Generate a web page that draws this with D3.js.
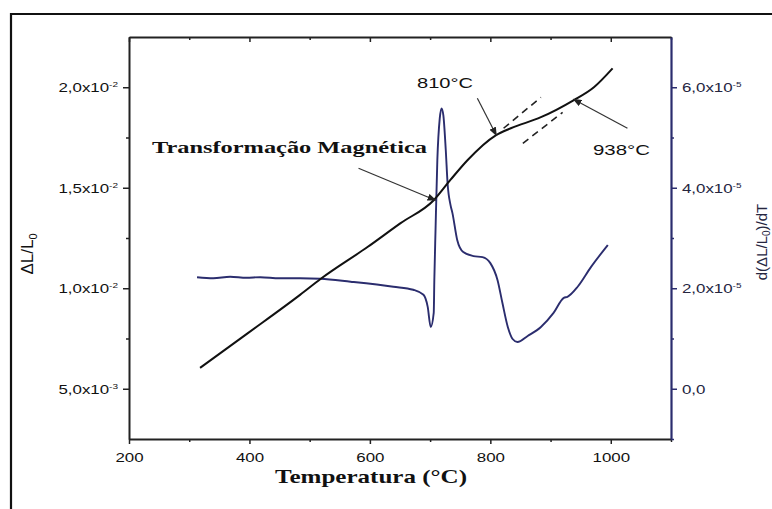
<!DOCTYPE html>
<html>
<head>
<meta charset="utf-8">
<script src="https://cdn.jsdelivr.net/npm/d3@7"></script>
<style>
  html, body { margin: 0; padding: 0; background: #fff; }
  svg { display: block; }
</style>
</head>
<body>
<svg id="chart" width="772" height="509"></svg>
<script>
// Thermal expansion ΔL/L0 against temperature (left axis)
const dilTemp  = [318, 398, 484, 518, 596, 651, 706, 734, 762, 809, 834, 884, 938, 972, 1003];
const dilValue = [0.00604, 0.00778, 0.00967, 0.01046, 0.01205, 0.01324, 0.01438, 0.01540,
                  0.01637, 0.01761, 0.01796, 0.01851, 0.01935, 0.02000, 0.02094];

// Derivative d(ΔL/L0)/dT against temperature (right axis)
const derivTemp  = [313, 340, 368, 395, 418, 450, 484, 518, 568, 639, 672, 689, 696, 701,
                    706, 707, 709, 712, 716, 719, 722, 726, 729, 734, 737, 745, 755, 772,
                    787, 800, 812, 820, 829, 837, 845, 862, 884, 905, 922, 928, 945, 967, 995];
const derivValue = [2.22e-5, 2.20e-5, 2.23e-5, 2.21e-5, 2.22e-5, 2.20e-5, 2.20e-5, 2.19e-5,
                    2.13e-5, 2.03e-5, 1.97e-5, 1.87e-5, 1.63e-5, 1.23e-5, 1.51e-5, 2.16e-5,
                    3.16e-5, 4.55e-5, 5.38e-5, 5.58e-5, 5.44e-5, 4.75e-5, 4.09e-5, 3.65e-5,
                    3.50e-5, 2.96e-5, 2.72e-5, 2.64e-5, 2.62e-5, 2.50e-5, 2.16e-5, 1.71e-5,
                    1.23e-5, 0.99e-5, 0.93e-5, 1.05e-5, 1.23e-5, 1.51e-5, 1.81e-5, 1.83e-5,
                    2.03e-5, 2.42e-5, 2.86e-5];

// Tangent construction lines around the 810 °C and 938 °C slope changes
const tangentUpperTemp  = [822, 884];
const tangentUpperValue = [0.01796, 0.01950];
const tangentLowerTemp  = [854, 920];
const tangentLowerValue = [0.01721, 0.01875];

// Annotated points on the expansion curve
const noteLabels = ["Transformação Magnética", "810°C", "938°C"];
const noteTemps  = [709, 810, 938];
const noteValues = [0.01438, 0.01761, 0.01940];

// Axis ticks
const xTicks = [200, 400, 600, 800, 1000];
const xMinorTicks = [300, 500, 700, 900, 1100];
const leftTicks = [0.005, 0.010, 0.015, 0.020];
const leftMinorTicks = [0.0075, 0.0125, 0.0175];
const leftTickMantissa = ["5,0x10", "1,0x10", "1,5x10", "2,0x10"];
const leftTickExponent = ["-3", "-2", "-2", "-2"];
const rightTicks = [0, 2e-5, 4e-5, 6e-5];
const rightMinorTicks = [-1e-5, 1e-5, 3e-5, 5e-5];
const rightTickMantissa = ["0,0", "2,0x10", "4,0x10", "6,0x10"];
const rightTickExponent = ["", "-5", "-5", "-5"];

const svg = d3.select("#chart");
const NAVY = "#2b2d6e";
const INK = "#111";
const SX = 1.25; // horizontal stretch applied to tick label glyphs

const x  = d3.scaleLinear().domain([200, 1100]).range([129, 671]);
const yL = d3.scaleLinear().domain([0.0025, 0.0225]).range([439, 37]);
const yR = d3.scaleLinear().domain([-1e-5, 7e-5]).range([439, 37]);

// outer frame
svg.append("path")
  .attr("d", "M11,509 V14 H772")
  .attr("fill", "none").attr("stroke", "#111").attr("stroke-width", 2.2);

// arrow marker
svg.append("defs").append("marker")
  .attr("id", "arrow")
  .attr("markerUnits", "userSpaceOnUse")
  .attr("markerWidth", 9).attr("markerHeight", 7)
  .attr("refX", 8).attr("refY", 3.5)
  .attr("orient", "auto")
  .append("path").attr("d", "M0,0 L9,3.5 L0,7 Z").attr("fill", "#222");

function styleAxis(g, color, width) {
  g.select(".domain").attr("stroke", color).attr("stroke-width", width);
  g.selectAll(".tick line").attr("stroke", color).attr("stroke-width", 1.5);
}

// bottom axis
const gBottom = svg.append("g").attr("transform", "translate(0,439)")
  .call(d3.axisBottom(x).tickValues(xTicks).tickSize(5).tickSizeOuter(0).tickFormat(d3.format("d")));
styleAxis(gBottom, "#222", 2);
gBottom.selectAll(".tick text")
  .attr("y", 13).attr("dy", "0.71em")
  .attr("transform", `scale(${SX},1)`)
  .attr("font-family", "'Liberation Sans', Arial, sans-serif")
  .attr("font-size", 13.5).attr("fill", INK);
const gBottomMinor = svg.append("g").attr("transform", "translate(0,439)")
  .call(d3.axisBottom(x).tickValues(xMinorTicks).tickSize(3).tickFormat(""));
gBottomMinor.select(".domain").remove();
gBottomMinor.selectAll(".tick line").attr("stroke", "#222").attr("stroke-width", 1.5);

// top axis (ticks inward)
const gTop = svg.append("g").attr("transform", "translate(0,37)")
  .call(d3.axisTop(x).tickValues(xTicks).tickSize(-5).tickSizeOuter(0).tickFormat(""));
styleAxis(gTop, "#222", 2);
const gTopMinor = svg.append("g").attr("transform", "translate(0,37)")
  .call(d3.axisTop(x).tickValues(xMinorTicks).tickSize(-3).tickFormat(""));
gTopMinor.select(".domain").remove();
gTopMinor.selectAll(".tick line").attr("stroke", "#222").attr("stroke-width", 1.5);

// tick label with superscript exponent
function sciLabel(sel, mantissa, exponent, ticks) {
  sel.each(function(d) {
    const i = ticks.indexOf(d);
    const t = d3.select(this).text(null);
    t.append("tspan").text(mantissa[i]);
    if (exponent[i]) {
      t.append("tspan").attr("dy", -5).attr("font-size", 8).text(exponent[i]);
    }
  });
}

// left axis
const gLeft = svg.append("g").attr("transform", "translate(129,0)")
  .call(d3.axisLeft(yL).tickValues(leftTicks).tickSize(6).tickSizeOuter(0));
styleAxis(gLeft, "#222", 2);
gLeft.selectAll(".tick text")
  .attr("x", -11 / SX).attr("dy", "0.32em")
  .attr("transform", `scale(${SX},1)`)
  .attr("font-family", "'Liberation Sans', Arial, sans-serif")
  .attr("font-size", 13.5).attr("fill", INK)
  .call(sciLabel, leftTickMantissa, leftTickExponent, leftTicks);
const gLeftMinor = svg.append("g").attr("transform", "translate(129,0)")
  .call(d3.axisLeft(yL).tickValues(leftMinorTicks).tickSize(3).tickFormat(""));
gLeftMinor.select(".domain").remove();
gLeftMinor.selectAll(".tick line").attr("stroke", "#222").attr("stroke-width", 1.5);

// right axis
const gRight = svg.append("g").attr("transform", "translate(671,0)")
  .call(d3.axisRight(yR).tickValues(rightTicks).tickSize(6).tickSizeOuter(0));
styleAxis(gRight, NAVY, 2.2);
gRight.selectAll(".tick text")
  .attr("x", 11 / SX).attr("dy", "0.32em")
  .attr("transform", `scale(${SX},1)`)
  .attr("font-family", "'Liberation Sans', Arial, sans-serif")
  .attr("font-size", 13.5).attr("fill", "#26263f")
  .call(sciLabel, rightTickMantissa, rightTickExponent, rightTicks);
const gRightMinor = svg.append("g").attr("transform", "translate(671,0)")
  .call(d3.axisRight(yR).tickValues(rightMinorTicks).tickSize(3).tickFormat(""));
gRightMinor.select(".domain").remove();
gRightMinor.selectAll(".tick line").attr("stroke", NAVY).attr("stroke-width", 1.5);

// axis titles
svg.append("text")
  .attr("transform", `translate(33,${(37 + 439) / 2 + 16}) rotate(-90)`)
  .attr("text-anchor", "middle")
  .attr("font-family", "'Liberation Sans', Arial, sans-serif")
  .attr("font-size", 17).attr("fill", INK)
  .call(t => {
    t.append("tspan").text("ΔL/L");
    t.append("tspan").attr("dy", 4).attr("font-size", 11).text("0");
  });

svg.append("text")
  .attr("transform", `translate(767,242) rotate(-90)`)
  .attr("text-anchor", "middle")
  .attr("font-family", "'Liberation Sans', Arial, sans-serif")
  .attr("font-size", 15).attr("fill", "#26263f")
  .call(t => {
    t.append("tspan").text("d(ΔL/L");
    t.append("tspan").attr("dy", 3).attr("font-size", 10).text("0");
    t.append("tspan").attr("dy", -3).text(")/dT");
  });

svg.append("text")
  .attr("x", 275).attr("y", 483)
  .attr("textLength", 192).attr("lengthAdjust", "spacingAndGlyphs")
  .attr("font-family", "'Liberation Serif', 'Times New Roman', serif")
  .attr("font-weight", "bold").attr("font-size", 19.5).attr("fill", INK)
  .text("Temperatura (°C)");

// curves
const line = d3.line().curve(d3.curveMonotoneX);

svg.append("path")
  .attr("d", line(derivTemp.map((t, i) => [x(t), yR(derivValue[i])])))
  .attr("fill", "none").attr("stroke", NAVY).attr("stroke-width", 1.9)
  .attr("stroke-linejoin", "round");

svg.append("path")
  .attr("d", line(dilTemp.map((t, i) => [x(t), yL(dilValue[i])])))
  .attr("fill", "none").attr("stroke", "#111").attr("stroke-width", 2)
  .attr("stroke-linejoin", "round");

[[tangentUpperTemp, tangentUpperValue], [tangentLowerTemp, tangentLowerValue]].forEach(([ts, vs]) => {
  svg.append("path")
    .attr("d", d3.line()(ts.map((t, i) => [x(t), yL(vs[i])])))
    .attr("fill", "none").attr("stroke", "#222").attr("stroke-width", 1.6)
    .attr("stroke-dasharray", "7,5");
});

// annotations: arrow from the label towards the point on the curve
const noteOffsets = [[-77, -32], [-19, -37], [54, 29]];
noteTemps.forEach((t, i) => {
  const px = x(t), py = yL(noteValues[i]);
  svg.append("line")
    .attr("x1", px + noteOffsets[i][0]).attr("y1", py + noteOffsets[i][1])
    .attr("x2", px).attr("y2", py)
    .attr("stroke", "#333").attr("stroke-width", 1.2)
    .attr("marker-end", "url(#arrow)");
});

svg.append("text")
  .attr("x", 152).attr("y", 153)
  .attr("textLength", 275).attr("lengthAdjust", "spacingAndGlyphs")
  .attr("font-family", "'Liberation Serif', 'Times New Roman', serif")
  .attr("font-weight", "bold").attr("font-size", 17).attr("fill", INK)
  .text(noteLabels[0]);

svg.append("text")
  .attr("x", 417).attr("y", 88)
  .attr("textLength", 56).attr("lengthAdjust", "spacingAndGlyphs")
  .attr("font-family", "'Liberation Sans', Arial, sans-serif")
  .attr("font-size", 15).attr("fill", INK)
  .text(noteLabels[1]);

svg.append("text")
  .attr("x", 593).attr("y", 155)
  .attr("textLength", 57).attr("lengthAdjust", "spacingAndGlyphs")
  .attr("font-family", "'Liberation Sans', Arial, sans-serif")
  .attr("font-size", 15).attr("fill", INK)
  .text(noteLabels[2]);
</script>
</body>
</html>
